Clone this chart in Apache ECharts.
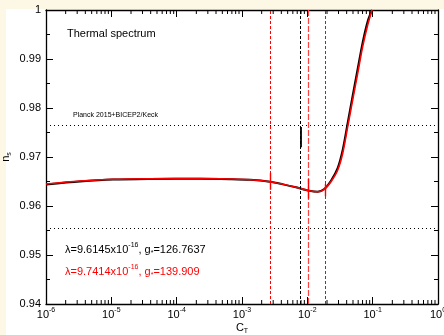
<!DOCTYPE html>
<html>
<head>
<meta charset="utf-8">
<script src="https://cdn.jsdelivr.net/npm/echarts@6/dist/echarts.min.js"></script>
<style>
  html, body { margin: 0; padding: 0; background: #fdf8e6; }
  #chart { width: 444px; height: 335px; }
</style>
</head>
<body>
<div id="chart"></div>
<script>
// Tensor amplitude C_T (log scale) and spectral index n_s
const ctValues = [1e-6, 3.3e-6, 1.06e-5, 3.9e-5, 2.3e-4, 6.5e-4, 1.33e-3, 2.68e-3, 4.25e-3, 6.7e-3,
  1.07e-2, 1.44e-2, 1.82e-2, 2.3e-2, 2.92e-2, 3.48e-2, 4.15e-2, 4.94e-2, 5.9e-2, 7.03e-2, 8.39e-2, 9.77e-2];
const nsBlack = [0.9644, 0.9650, 0.96540, 0.96553, 0.96557, 0.96548, 0.96534, 0.96494, 0.96441, 0.96381,
  0.96312, 0.96293, 0.96348, 0.96516, 0.96780, 0.97150, 0.97700, 0.98250, 0.98800, 0.99340, 0.99770, 1.0];
const nsRed = [0.9645, 0.9651, 0.96545, 0.96557, 0.96561, 0.96551, 0.96537, 0.96496, 0.96443, 0.96382,
  0.96312, 0.96292, 0.96341, 0.96496, 0.96735, 0.97076, 0.97618, 0.98163, 0.98708, 0.99251, 0.99694, 1.0];

// Planck 2015 + BICEP2/Keck bounds on n_s
const planckBounds = [0.9765, 0.9555];

// Vertical markers in C_T
const redDashed = [2.69e-3, 1.85e-2];
const redLongDashed = [1.035e-2];
const blackDashed = [7.8e-3];

// Short solid segments on the markers: [C_T, n_s low, n_s high]
const blackSegments = [[7.8e-3, 0.9720, 0.9761]];
const redSegments = [[2.69e-3, 0.9633, 0.9667], [1.035e-2, 0.9615, 0.9655], [1.85e-2, 0.9620, 0.9645]];

// Axis ranges and ticks
const xMin = 1e-6, xMax = 1;
const yMin = 0.94, yMax = 1.0, yStep = 0.01;
const decadeStarts = [1e-6, 1e-5, 1e-4, 1e-3, 1e-2, 1e-1];
const minorMultipliers = [2, 3, 4, 5, 6, 7, 8, 9];

const FONT = '"Liberation Sans", Arial, Helvetica, sans-serif';

const minorTickData = [];
decadeStarts.forEach(d => minorMultipliers.forEach(m => minorTickData.push([m * d, yMin])));

function zip(xs, ys) { return xs.map((x, i) => [x, ys[i]]); }

function segLines(list) {
  return list.map(s => [{ coord: [s[0], s[1]] }, { coord: [s[0], s[2]] }]);
}

const chart = echarts.init(document.getElementById('chart'), null, { renderer: 'canvas' });

const axisLineStyle = { color: '#000', width: 1.3 };

const option = {
  backgroundColor: '#fdf8e6',
  animation: false,
  textStyle: { fontFamily: FONT },
  graphic: [
    { type: 'rect', z: -10, shape: { x: 6, y: 9, width: 438, height: 326 }, style: { fill: '#ffffff' } },
    { type: 'text', left: 67, top: 28, style: { text: 'Thermal spectrum', font: '11px ' + FONT, fill: '#000' } },
    { type: 'text', left: 73, top: 112, style: { text: 'Planck 2015+BICEP2/Keck', font: '7px ' + FONT, fill: '#000' } },
    { type: 'text', left: 65, top: 242, style: {
        text: '{b|λ=9.6145x10}{sup|-16}{b|, g}{sub|*}{b|=126.7637}', fill: '#000',
        rich: {
          b: { fontSize: 11, fontFamily: FONT, lineHeight: 15, fill: '#000' },
          sup: { fontSize: 7, fontFamily: FONT, verticalAlign: 'top', lineHeight: 15, fill: '#000' },
          sub: { fontSize: 7, fontFamily: FONT, verticalAlign: 'bottom', lineHeight: 15, fill: '#000' }
        } } },
    { type: 'text', left: 65, top: 264, style: {
        text: '{b|λ=9.7414x10}{sup|-16}{b|, g}{sub|*}{b|=139.909}', fill: '#ff0000',
        rich: {
          b: { fontSize: 11, fontFamily: FONT, lineHeight: 15, fill: '#ff0000' },
          sup: { fontSize: 7, fontFamily: FONT, verticalAlign: 'top', lineHeight: 15, fill: '#ff0000' },
          sub: { fontSize: 7, fontFamily: FONT, verticalAlign: 'bottom', lineHeight: 15, fill: '#ff0000' }
        } } }
  ],
  grid: { left: 46, top: 10, right: 6, bottom: 31, containLabel: false, outerBoundsMode: 'none' },
  xAxis: [
    {
      type: 'log', logBase: 10, min: xMin, max: xMax, interval: 1, position: 'bottom',
      name: '{c|C}{t|T}', nameLocation: 'middle', nameGap: 17, nameMoveOverlap: false,
      nameTextStyle: {
        rich: {
          c: { fontSize: 11, fontFamily: FONT, color: '#000', lineHeight: 14 },
          t: { fontSize: 7, fontFamily: FONT, color: '#000', verticalAlign: 'bottom', lineHeight: 14 }
        }
      },
      axisLine: { show: true, lineStyle: axisLineStyle },
      axisTick: { show: true, inside: true, length: 7, lineStyle: { color: '#000', width: 1 } },
      splitLine: { show: false },
      axisLabel: {
        margin: 3, showMinLabel: true, showMaxLabel: true,
        formatter: v => '{b|10}{s|' + Math.round(Math.log10(v)) + '}',
        rich: {
          b: { fontSize: 11, fontFamily: FONT, color: '#000', lineHeight: 15 },
          s: { fontSize: 7, fontFamily: FONT, color: '#000', verticalAlign: 'top', lineHeight: 15 }
        }
      }
    },
    {
      type: 'log', logBase: 10, min: xMin, max: xMax, interval: 1, position: 'top',
      axisLine: { show: true, lineStyle: axisLineStyle },
      axisTick: { show: true, inside: true, length: 7, lineStyle: { color: '#000', width: 1 } },
      axisLabel: { show: false }, splitLine: { show: false }
    }
  ],
  yAxis: [
    {
      type: 'value', min: yMin, max: yMax, interval: yStep, position: 'left',
      name: '{n|n}{s|s}', nameLocation: 'middle', nameRotate: 90, nameGap: 33, nameMoveOverlap: false,
      nameTextStyle: {
        rich: {
          n: { fontSize: 11, fontFamily: FONT, color: '#000', lineHeight: 14 },
          s: { fontSize: 7, fontFamily: FONT, color: '#000', verticalAlign: 'bottom', lineHeight: 14 }
        }
      },
      axisLine: { show: true, lineStyle: axisLineStyle },
      axisTick: { show: true, inside: true, length: 7, lineStyle: { color: '#000', width: 1 } },
      minorTick: { show: true, splitNumber: 2, length: 4, lineStyle: { color: '#000', width: 1 } },
      splitLine: { show: false },
      axisLabel: {
        margin: 5, fontSize: 11, color: '#000', fontFamily: FONT,
        formatter: v => (Math.abs(v - 1) < 1e-9 ? '1' : v.toFixed(2))
      }
    },
    {
      type: 'value', min: yMin, max: yMax, interval: yStep, position: 'right',
      axisLine: { show: true, lineStyle: axisLineStyle },
      axisTick: { show: true, inside: true, length: 7, lineStyle: { color: '#000', width: 1 } },
      minorTick: { show: true, splitNumber: 2, length: 4, lineStyle: { color: '#000', width: 1 } },
      splitLine: { show: false }, axisLabel: { show: false }
    }
  ],
  series: [
    {
      // minor log ticks along the bottom and top edges
      type: 'custom', silent: true, clip: false, z: 5,
      data: minorTickData,
      encode: { x: 0, y: 1 },
      renderItem: (params, api) => {
        const x = api.value(0);
        const pb = api.coord([x, yMin]);
        const pt = api.coord([x, yMax]);
        const st = { stroke: '#000', lineWidth: 1 };
        return {
          type: 'group',
          children: [
            { type: 'line', shape: { x1: pb[0], y1: pb[1], x2: pb[0], y2: pb[1] - 4 }, style: st },
            { type: 'line', shape: { x1: pt[0], y1: pt[1], x2: pt[0], y2: pt[1] + 4 }, style: st }
          ]
        };
      }
    },
    {
      name: 'black', type: 'line', smooth: 0.3, showSymbol: false, silent: true, z: 3,
      data: zip(ctValues, nsBlack),
      lineStyle: { color: '#000', width: 2 },
      markLine: {
        silent: true, symbol: 'none', label: { show: false }, animation: false, precision: 8,
        data: [
          ...planckBounds.map(v => ({ yAxis: v, lineStyle: { color: '#000', width: 1, type: [1, 3] } })),
          ...blackDashed.map(v => ({ xAxis: v, lineStyle: { color: '#000', width: 1, type: [3, 2] } })),
          ...segLines(blackSegments).map(p => { p[0].lineStyle = { color: '#000', width: 1.8, type: 'solid' }; return p; })
        ]
      }
    },
    {
      name: 'red', type: 'line', smooth: 0.3, showSymbol: false, silent: true, z: 4,
      data: zip(ctValues, nsRed),
      lineStyle: { color: '#ff0000', width: 1.6 },
      markLine: {
        silent: true, symbol: 'none', label: { show: false }, animation: false, precision: 8,
        data: [
          ...redDashed.map(v => ({ xAxis: v, lineStyle: { color: '#ff0000', width: 1, type: [3, 2] } })),
          ...redLongDashed.map(v => ({ xAxis: v, lineStyle: { color: '#ff4040', width: 1.2, type: [6, 2] } })),
          ...segLines(redSegments).map(p => { p[0].lineStyle = { color: '#ff0000', width: 1.4, type: 'solid' }; return p; })
        ]
      }
    }
  ]
};

chart.setOption(option);
</script>
</body>
</html>
